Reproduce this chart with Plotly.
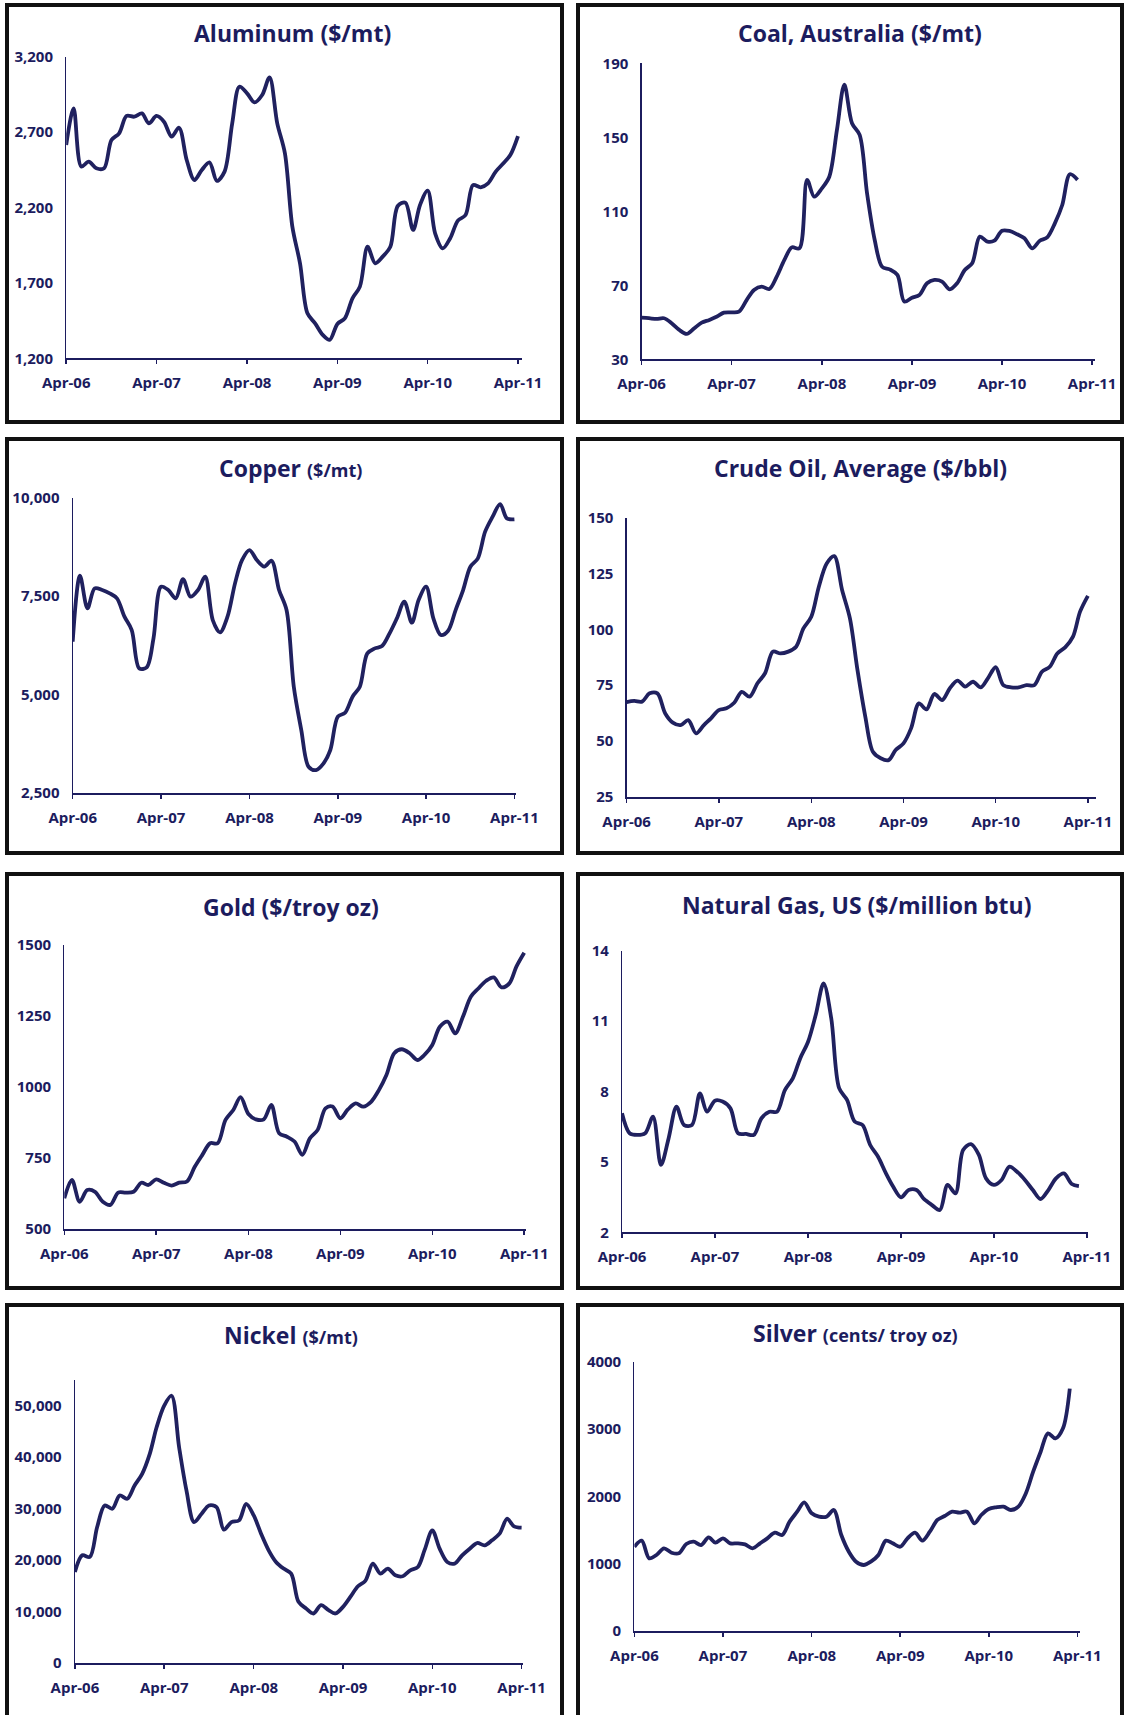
import plotly.graph_objects as go
import pandas as pd

# ---------------- data ----------------
months = list(pd.date_range("2006-04-01", "2011-04-01", freq="MS"))
tick_dates = ["2006-04-01", "2007-04-01", "2008-04-01", "2009-04-01", "2010-04-01", "2011-04-01"]
tick_text = ["Apr-06", "Apr-07", "Apr-08", "Apr-09", "Apr-10", "Apr-11"]

aluminum = [2614, 2857, 2471, 2504, 2460, 2460, 2647, 2692, 2807, 2802, 2824, 2758,
            2807, 2769, 2670, 2729, 2515, 2382, 2449, 2499, 2376, 2438, 2758, 3001,
            2957, 2897, 2946, 3063, 2758, 2559, 2073, 1830, 1498, 1432, 1355, 1322,
            1428, 1465, 1598, 1675, 1940, 1830, 1874, 1940, 2210, 2232, 2051, 2217,
            2312, 2029, 1929, 1996, 2113, 2150, 2349, 2334, 2360, 2438, 2493, 2548,
            2674]
coal = [52.5, 52.2, 51.8, 52.2, 49.5, 45.9, 43.7, 46.8, 49.8, 51.3, 53.1, 55.2,
        55.4, 55.8, 62.0, 67.5, 69.3, 68.0, 74.7, 83.7, 90.5, 90.0, 127.0, 117.9,
        122.4, 128.7, 154.0, 178.5, 157.6, 151.3, 119.7, 94.5, 80.0, 78.6, 75.6, 61.2,
        63.3, 64.8, 71.1, 72.9, 72.0, 67.8, 71.1, 78.3, 81.9, 96.3, 93.6, 94.1,
        99.5, 99.4, 97.6, 95.4, 90.0, 94.1, 95.9, 103.5, 113.4, 130.0, 127.0]
copper = [6339, 8017, 7186, 7695, 7653, 7568, 7441, 6975, 6636, 5661, 5686, 6424,
          7737, 7653, 7441, 7932, 7483, 7653, 7992, 6890, 6576, 6975, 7822, 8415,
          8669, 8415, 8246, 8398, 7653, 7144, 5195, 4093, 3161, 3076, 3246, 3585,
          4432, 4534, 4941, 5195, 6042, 6169, 6229, 6551, 6932, 7356, 6822, 7398,
          7737, 6932, 6508, 6619, 7144, 7653, 8246, 8458, 9136, 9517, 9839, 9475,
          9449]
crude = [67.4, 67.9, 67.6, 71.3, 71.3, 62.3, 58.2, 57.1, 59.3, 53.4, 57.1, 60.1,
         63.8, 64.6, 67.1, 72.0, 69.8, 75.8, 80.3, 90.0, 89.2, 90.0, 92.2, 100.4,
         105.6, 119.1, 129.5, 132.8, 117.6, 104.9, 81.7, 60.8, 45.1, 42.2, 41.4, 45.9,
         48.9, 55.6, 66.8, 64.1, 71.0, 68.3, 73.5, 77.0, 74.3, 76.5, 74.0, 78.0,
         83.0, 75.0, 74.0, 74.0, 75.0, 75.0, 81.0, 83.2, 89.2, 91.9, 96.7, 107.9,
         115.0]
gold = [608, 673, 596, 637, 631, 596, 585, 628, 628, 631, 663, 655,
        675, 663, 653, 663, 667, 719, 761, 802, 802, 884, 919, 964,
        905, 886, 886, 937, 837, 825, 808, 761, 819, 849, 925, 931,
        890, 921, 942, 931, 948, 989, 1042, 1119, 1133, 1119, 1095, 1113,
        1148, 1212, 1230, 1189, 1248, 1318, 1347, 1374, 1386, 1351, 1365, 1424,
        1473]
natgas = [7.07, 6.22, 6.15, 6.22, 6.93, 4.87, 6.00, 7.35, 6.57, 6.57, 7.92, 7.14,
          7.61, 7.57, 7.28, 6.22, 6.19, 6.15, 6.86, 7.14, 7.14, 8.06, 8.56, 9.41,
          10.12, 11.26, 12.61, 11.12, 8.14, 7.64, 6.72, 6.57, 5.72, 5.22, 4.51, 3.95,
          3.49, 3.80, 3.80, 3.41, 3.16, 2.95, 4.02, 3.66, 5.51, 5.76, 5.30, 4.30,
          4.02, 4.23, 4.80, 4.58, 4.23, 3.80, 3.42, 3.80, 4.30, 4.51, 4.06, 3.97]
nickel = [17659, 20893, 20569, 26391, 30595, 29948, 32535, 31889, 34476, 36740, 40621, 45796,
          50000, 51940, 41915, 33506, 27361, 28978, 30595, 30272, 25873, 27361, 27684, 30918,
          28655, 25097, 21863, 19599, 18305, 17335, 11837, 10543, 9573, 11190, 10220, 9573,
          10867, 12807, 14877, 15912, 19276, 17335, 18305, 17012, 16818, 17982, 18629, 21992,
          25744, 22186, 19599, 19276, 20893, 22186, 23286, 22833, 23803, 25097, 28008, 26520,
          26261]
silver = [1252, 1342, 1079, 1129, 1228, 1163, 1153, 1292, 1327, 1277, 1391, 1312,
          1376, 1302, 1302, 1287, 1228, 1302, 1376, 1460, 1426, 1624, 1772, 1911,
          1748, 1698, 1698, 1797, 1426, 1178, 1030, 980, 1030, 1129, 1342, 1302,
          1252, 1376, 1460, 1342, 1475, 1649, 1708, 1772, 1757, 1772, 1599, 1723,
          1812, 1837, 1847, 1797, 1847, 2045, 2366, 2663, 2936, 2861, 3010, 3600]

# ---------------- styling / layout ----------------
W, H = 1125, 1715
NAVY = "#1c1c5e"
LINE = "#20215f"
FONT = "Open Sans"
SMALL = "<span style='font-size:18px'>"

panels = [
    dict(title="Aluminum ($/mt)", data=aluminum, x0=66.2, a11=518.0, xe=522.4, yt=56.7, yb=358.3,
         yr=[1200, 3200], dtick=500, fmt=",d", tx=292.6, ty=33),
    dict(title="Coal, Australia ($/mt)", data=coal, x0=641.5, a11=1092.1, xe=1094.6, yt=63.3, yb=359.3,
         yr=[30, 190], dtick=40, fmt="d", tx=860.0, ty=33),
    dict(title="Copper " + SMALL + "($/mt)</span>", data=copper, x0=72.7, a11=514.4, xe=515.5,
         yt=497.7, yb=792.7, yr=[2500, 10000], dtick=2500, fmt=",d", tx=290.8, ty=468),
    dict(title="Crude Oil, Average ($/bbl)", data=crude, x0=626.6, a11=1087.9, xe=1096.4, yt=517.7, yb=796.7,
         yr=[25, 150], dtick=25, fmt="d", tx=860.3, ty=468),
    dict(title="Gold ($/troy oz)", data=gold, x0=64.3, a11=524.2, xe=526.0, yt=945.0, yb=1229.0,
         yr=[500, 1500], dtick=250, fmt="d", tx=290.8, ty=907),
    dict(title="Natural Gas, US ($/million btu)", data=natgas, x0=622.0, a11=1086.8, xe=1087.5, yt=950.7,
         yb=1232.3, yr=[2, 14], dtick=3, fmt="d", tx=856.7, ty=905),
    dict(title="Nickel " + SMALL + "($/mt)</span>", data=nickel, x0=74.9, a11=521.6, xe=523.4,
         yt=1380.0, yb=1662.7, yr=[0, 55000], dtick=10000, fmt=",d", tx=290.8, ty=1335),
    dict(title="Silver " + SMALL + "(cents/ troy oz)</span>", data=silver, x0=634.4, a11=1077.3,
         xe=1079.7, yt=1361.7, yb=1631.0, yr=[0, 4000], dtick=1000, fmt="d", tx=855.0, ty=1333),
]

fig = go.Figure()
t_start = pd.Timestamp(tick_dates[0])
t_end = pd.Timestamp(tick_dates[-1])
span = t_end - t_start

for i, p in enumerate(panels, start=1):
    xa = "x" if i == 1 else f"x{i}"
    ya = "y" if i == 1 else f"y{i}"
    n = len(p["data"])
    fig.add_trace(go.Scatter(
        x=months[:n], y=p["data"], mode="lines",
        line=dict(color=LINE, width=3.8, shape="spline", smoothing=0.9),
        xaxis=xa, yaxis=ya, showlegend=False, hoverinfo="skip"))
    frac = (p["xe"] - p["x0"]) / (p["a11"] - p["x0"])
    r_end = t_start + span * frac
    xkey = "xaxis" if i == 1 else f"xaxis{i}"
    ykey = "yaxis" if i == 1 else f"yaxis{i}"
    fig.layout[xkey] = dict(
        domain=[p["x0"] / W, p["xe"] / W], anchor=ya, type="date", automargin=False,
        range=[t_start, r_end], tickvals=tick_dates, ticktext=tick_text,
        showline=True, linecolor=NAVY, linewidth=2, ticks="outside", ticklen=4,
        tickwidth=1.5, tickcolor=NAVY, showgrid=False, zeroline=False,
        tickfont=dict(family=FONT, size=15, color=NAVY, weight="bold"),
        ticklabelstandoff=6, fixedrange=True)
    fig.layout[ykey] = dict(
        domain=[1 - p["yb"] / H, 1 - p["yt"] / H], anchor=xa, automargin=False,
        range=p["yr"], tick0=p["yr"][0], dtick=p["dtick"], tickformat=p["fmt"],
        showline=True, linecolor=NAVY, linewidth=1.2, ticks="", showgrid=False,
        zeroline=False, ticklabelstandoff=9,
        tickfont=dict(family=FONT, size=15, color=NAVY, weight="bold"), fixedrange=True)
    fig.add_annotation(text=p["title"], x=p["tx"] / W, y=1 - p["ty"] / H, xref="paper", yref="paper",
                       xanchor="center", yanchor="middle", showarrow=False,
                       font=dict(family=FONT, size=23, color=NAVY, weight="bold"))

# panel frames
rows = [(5, 422), (439, 853), (874, 1288), (1305, 1730)]
cols = [(7, 562), (578, 1122)]
for (yt, yb) in rows:
    for (x0, x1) in cols:
        fig.add_shape(type="rect", xref="paper", yref="paper",
                      x0=x0 / W, x1=x1 / W, y0=1 - yb / H, y1=1 - yt / H,
                      line=dict(color="#111111", width=4), fillcolor="rgba(0,0,0,0)", layer="above")

fig.update_layout(width=W, height=H, margin=dict(l=0, r=0, t=0, b=0, autoexpand=False),
                  paper_bgcolor="white", plot_bgcolor="white", showlegend=False)

fig.write_html("out.html", config={"displayModeBar": False, "staticPlot": True},
               post_script="document.body.style.margin='0';")
